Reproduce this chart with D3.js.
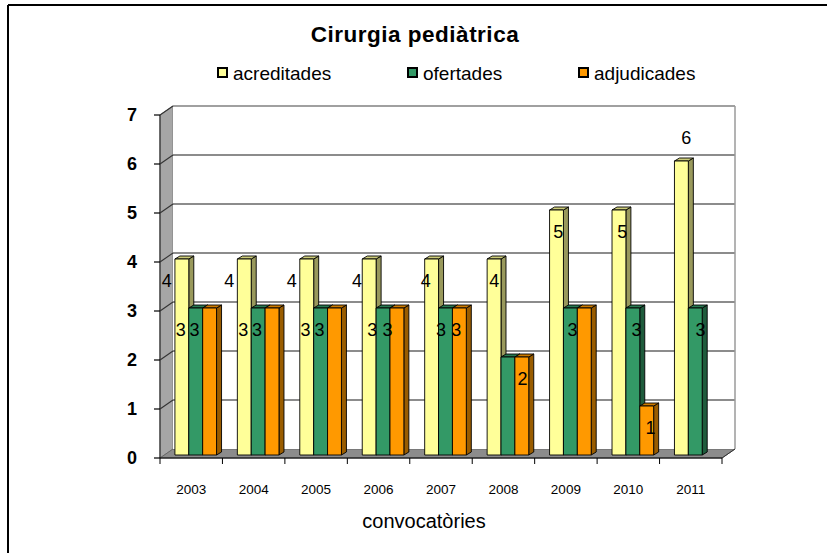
<!DOCTYPE html>
<html>
<head>
<meta charset="utf-8">
<script src="https://cdn.jsdelivr.net/npm/d3@7"></script>
<style>
  html, body { margin: 0; padding: 0; background: #fff; }
  svg { display: block; }
  text { font-family: "Liberation Sans", Arial, sans-serif; }
</style>
</head>
<body>
<svg id="chart" width="827" height="553"></svg>
<script>
// ---- data ----
const years = ["2003","2004","2005","2006","2007","2008","2009","2010","2011"];
const seriesNames = ["acreditades","ofertades","adjudicades"];
const acreditades = [4,4,4,4,4,4,5,5,6];
const ofertades   = [3,3,3,3,3,2,3,3,3];
const adjudicades = [3,3,3,3,3,2,3,1,null];
// data labels as shown in the picture (null = label not visible)
const labelAcreditades = [4,4,4,4,4,4,5,5,6];
const labelOfertades   = [3,3,3,3,3,null,3,3,3];
const labelAdjudicades = [3,3,3,3,3,2,null,1,null];
const yTicks = [0,1,2,3,4,5,6,7];
const titleText = "Cirurgia pediàtrica";
const xTitle = "convocatòries";

const colors = {
  acreditades: {front:"#FFFF99", side:"#99995C", top:"#CCCC7A"},
  ofertades:   {front:"#339966", side:"#1F5C3D", top:"#297A52"},
  adjudicades: {front:"#FF9900", side:"#995C00", top:"#CC7A00"}
};
const values = {acreditades, ofertades, adjudicades};
const labels = {acreditades: labelAcreditades, ofertades: labelOfertades, adjudicades: labelAdjudicades};

const svg = d3.select("#chart");

// ---- layout ----
const xL = 160, xR = 722, yBot = 458, yTop = 115;
const DX = 13, DY = -9;      // wall/floor depth
const OX = 4.5, OY = -3;     // bar front offset inside depth
const BDX = 5, BDY = -3;     // bar depth

const y = d3.scaleLinear().domain([0,7]).range([yBot, yTop]);
const x = d3.scaleBand().domain(years).range([xL, xR]).paddingInner(0).paddingOuter(0);
const xs = d3.scaleBand().domain(seriesNames).range([0, x.bandwidth()]).paddingInner(0).paddingOuter(0.75);

// outer frame (only top/left visible)
svg.append("line").attr("x1",8).attr("y1",5).attr("x2",827).attr("y2",5).attr("stroke","#000").attr("stroke-width",2);
svg.append("line").attr("x1",8).attr("y1",5).attr("x2",8).attr("y2",553).attr("stroke","#000").attr("stroke-width",2);

// left wall
svg.append("polygon")
  .attr("points", [[xL,yBot],[xL,yTop],[xL+DX,yTop+DY],[xL+DX,yBot+DY]].map(p=>p.join(",")).join(" "))
  .attr("fill","#A6A6A6").attr("stroke","#808080").attr("stroke-width",1);
// floor
svg.append("polygon")
  .attr("points", [[xL,yBot],[xR,yBot],[xR+DX,yBot+DY],[xL+DX,yBot+DY]].map(p=>p.join(",")).join(" "))
  .attr("fill","#8C8C8C").attr("stroke","#666").attr("stroke-width",1);
// back wall
svg.append("rect").attr("x",xL+DX).attr("y",yTop+DY).attr("width",xR-xL).attr("height",yBot-yTop)
  .attr("fill","#fff").attr("stroke","none");

// gridlines
const grid = svg.append("g");
yTicks.forEach(t => {
  if (t === 0) return;
  grid.append("line").attr("x1",xL+DX).attr("x2",xR+DX).attr("y1",y(t)+DY).attr("y2",y(t)+DY)
    .attr("stroke", t===7 ? "#808080" : "#1a1a1a").attr("stroke-width", t===7 ? 1.5 : 1.2);
  grid.append("line").attr("x1",xL).attr("x2",xL+DX).attr("y1",y(t)).attr("y2",y(t)+DY)
    .attr("stroke","#333").attr("stroke-width",1.1);
});
// right edge of back wall
svg.append("line").attr("x1",xR+DX).attr("x2",xR+DX).attr("y1",yTop+DY).attr("y2",yBot+DY)
  .attr("stroke","#9a9a9a").attr("stroke-width",1.5);

// y axis
svg.append("line").attr("x1",xL).attr("x2",xL).attr("y1",yTop).attr("y2",yBot).attr("stroke","#333").attr("stroke-width",1.2);
yTicks.forEach(t => {
  svg.append("line").attr("x1",xL-6).attr("x2",xL).attr("y1",y(t)).attr("y2",y(t)).attr("stroke","#000").attr("stroke-width",1.2);
  svg.append("text").attr("x",137).attr("y",y(t)+1).attr("text-anchor","end").attr("dominant-baseline","middle")
    .attr("font-size",18).attr("font-weight","bold").attr("fill","#000").text(t);
});

// x axis
svg.append("line").attr("x1",xL).attr("x2",xR).attr("y1",yBot).attr("y2",yBot).attr("stroke","#000").attr("stroke-width",1.2);
svg.append("line").attr("x1",xR).attr("x2",xR+DX).attr("y1",yBot).attr("y2",yBot+DY).attr("stroke","#333").attr("stroke-width",1);
years.concat(["end"]).forEach((yr,i) => {
  const xx = i < years.length ? x(yr) : xR;
  svg.append("line").attr("x1",xx).attr("x2",xx).attr("y1",yBot).attr("y2",yBot+6).attr("stroke","#000").attr("stroke-width",1);
});
years.forEach(yr => {
  svg.append("text").attr("x",x(yr)+x.bandwidth()/2).attr("y",494).attr("text-anchor","middle")
    .attr("font-size",13.5).attr("fill","#000").text(yr);
});

// bars
const barsG = svg.append("g");
const labelInfo = [];
years.forEach((yr,i) => {
  seriesNames.forEach(s => {
    const v = values[s][i];
    if (v == null) return;
    const x0 = x(yr) + xs(s) + OX;
    const w = xs.bandwidth();
    const yb = y(0) + OY;
    const yt = y(v) + OY;
    const c = colors[s];
    const g = barsG.append("g").attr("stroke","#000").attr("stroke-width",0.9).attr("stroke-linejoin","round");
    g.append("polygon").attr("fill",c.side)
      .attr("points",[[x0+w,yt],[x0+w+BDX,yt+BDY],[x0+w+BDX,yb+BDY],[x0+w,yb]].map(p=>p.join(",")).join(" "));
    g.append("polygon").attr("fill",c.top)
      .attr("points",[[x0,yt],[x0+BDX,yt+BDY],[x0+w+BDX,yt+BDY],[x0+w,yt]].map(p=>p.join(",")).join(" "));
    g.append("rect").attr("x",x0).attr("y",yt).attr("width",w).attr("height",yb-yt).attr("fill",c.front);
    const lab = labels[s][i];
    if (lab != null) {
      const cx = x0 + w/2;
      const shift = cx < 490 ? Math.max(-15,(cx-490)*0.1) : (cx-490)*0.025;
      const above = v === d3.max(acreditades);
      labelInfo.push({x: cx + shift, y: above ? yt - 22 : yt + 23, t: lab});
    }
  });
});
svg.append("g").selectAll("text").data(labelInfo).join("text")
  .attr("x",d=>d.x).attr("y",d=>d.y).attr("text-anchor","middle").attr("dominant-baseline","middle")
  .attr("font-size",18).attr("fill","#000").text(d=>d.t);

// title
svg.append("text").attr("x",415).attr("y",42).attr("text-anchor","middle")
  .attr("font-size",22.5).attr("font-weight","bold").attr("letter-spacing",0.5).attr("fill","#000").text(titleText);

// legend
const legendX = [218, 408, 579];
seriesNames.forEach((s,i) => {
  svg.append("rect").attr("x",legendX[i]).attr("y",68).attr("width",9).attr("height",9)
    .attr("fill",colors[s].front).attr("stroke","#000").attr("stroke-width",2);
  svg.append("text").attr("x",legendX[i]+15).attr("y",80).attr("font-size",19).attr("fill","#000").text(s);
});

// x axis title
svg.append("text").attr("x",424).attr("y",528).attr("text-anchor","middle")
  .attr("font-size",20).attr("fill","#000").text(xTitle);
</script>
</body>
</html>
